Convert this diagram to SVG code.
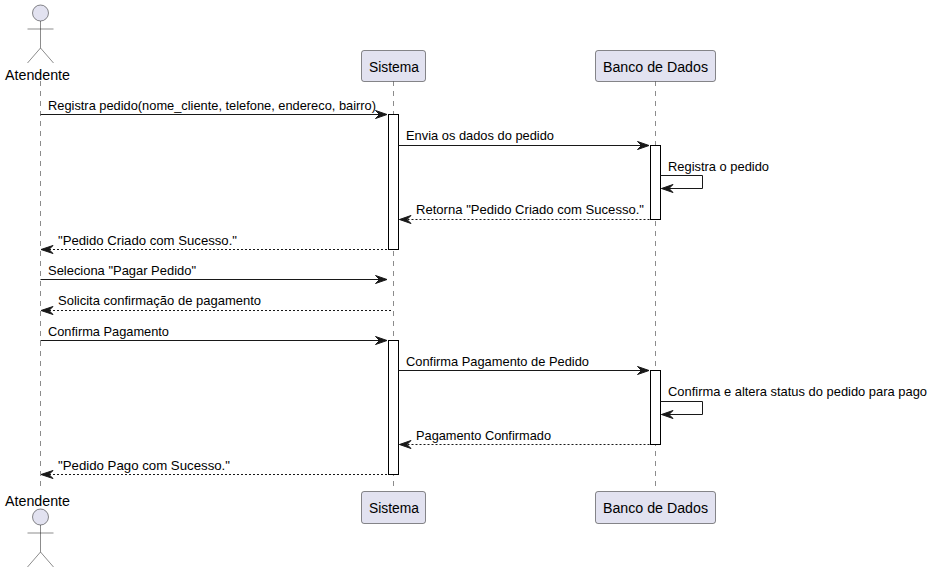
<svg xmlns="http://www.w3.org/2000/svg" width="932" height="573" viewBox="0 0 932 573">
<style>
text{font-family:"Liberation Sans",Arial,sans-serif;fill:#000}
.m{font-size:13px}
.p{font-size:14px}
.life{stroke:#181818;stroke-width:.5;stroke-dasharray:5,5;fill:none}
.box{fill:#E2E2F0;stroke:#181818;stroke-width:.5}
.act{fill:#fff;stroke:#000;stroke-width:1}
.ln{stroke:#181818;stroke-width:1;fill:none}
.dl{stroke:#181818;stroke-width:1;stroke-dasharray:2,2;fill:none}
.ah{fill:#181818;stroke:#181818;stroke-width:1}
.st{fill:none;stroke:#181818;stroke-width:.5}
.hd{fill:#E2E2F0;stroke:#181818;stroke-width:.5}
</style>
<rect width="932" height="573" fill="#fff"/>
<g id="lifelines">
<path class="life" d="M40.5 81V491"/>
<path class="life" d="M393.5 81V491"/>
<path class="life" d="M655.5 81V491"/>
</g>
<g id="activations">
<rect class="act" x="388.5" y="114.5" width="10" height="135"/>
<rect class="act" x="388.5" y="340.5" width="10" height="134"/>
<rect class="act" x="650.5" y="145.5" width="10" height="74"/>
<rect class="act" x="650.5" y="370.5" width="10" height="74"/>
</g>
<g id="actor-top">
<circle class="hd" cx="40.5" cy="13" r="8"/>
<path class="st" d="M40.5 21V48M27.5 29H53.5M40.5 48L27.5 63M40.5 48L53.5 63"/>
<text class="p" x="5" y="80" textLength="65" lengthAdjust="spacingAndGlyphs">Atendente</text>
</g>
<g id="actor-bottom">
<text class="p" x="5" y="506" textLength="65" lengthAdjust="spacingAndGlyphs">Atendente</text>
<circle class="hd" cx="40.5" cy="517" r="8"/>
<path class="st" d="M40.5 525V552M27.5 533H53.5M40.5 552L27.5 567M40.5 552L53.5 567"/>
</g>
<g id="sistema-top">
<rect class="box" x="361.5" y="50.5" width="64" height="31" rx="2.5"/>
<text class="p" x="369" y="72" textLength="50" lengthAdjust="spacingAndGlyphs">Sistema</text>
</g>
<g id="sistema-bottom">
<rect class="box" x="361.5" y="491.5" width="64" height="32" rx="2.5"/>
<text class="p" x="369" y="513" textLength="50" lengthAdjust="spacingAndGlyphs">Sistema</text>
</g>
<g id="banco-top">
<rect class="box" x="595.5" y="50.5" width="120" height="31" rx="2.5"/>
<text class="p" x="603" y="72" textLength="105" lengthAdjust="spacingAndGlyphs">Banco de Dados</text>
</g>
<g id="banco-bottom">
<rect class="box" x="595.5" y="491.5" width="120" height="32" rx="2.5"/>
<text class="p" x="603" y="513" textLength="105" lengthAdjust="spacingAndGlyphs">Banco de Dados</text>
</g>
<g id="connectors">
<path class="ln" d="M40.5 114.5H387"/><path class="ah" d="M375.5 110.5L387 114.5L375.5 118.5L379.5 114.5Z"/>
<path class="ln" d="M398.5 145.5H649"/><path class="ah" d="M637.5 141.5L649 145.5L637.5 149.5L641.5 145.5Z"/>
<path class="ln" d="M660.5 175.5H702.5V188.5H661.5"/><path class="ah" d="M673 184.5L661.5 188.5L673 192.5L669 188.5Z"/>
<path class="dl" d="M399.5 219.5H650"/><path class="ah" d="M411 215.5L399.5 219.5L411 223.5L407 219.5Z"/>
<path class="dl" d="M41 249.5H388"/><path class="ah" d="M53 245.5L41 249.5L53 253.5L49 249.5Z"/>
<path class="ln" d="M40.5 279.5H387"/><path class="ah" d="M375.5 275.5L387 279.5L375.5 283.5L379.5 279.5Z"/>
<path class="dl" d="M41 310.5H393"/><path class="ah" d="M53 306.5L41 310.5L53 314.5L49 310.5Z"/>
<path class="ln" d="M40.5 340.5H387"/><path class="ah" d="M375.5 336.5L387 340.5L375.5 344.5L379.5 340.5Z"/>
<path class="ln" d="M398.5 370.5H649"/><path class="ah" d="M637.5 366.5L649 370.5L637.5 374.5L641.5 370.5Z"/>
<path class="ln" d="M660.5 401.5H702.5V414.5H661.5"/><path class="ah" d="M673 410.5L661.5 414.5L673 418.5L669 414.5Z"/>
<path class="dl" d="M399.5 444.5H650"/><path class="ah" d="M411 440.5L399.5 444.5L411 448.5L407 444.5Z"/>
<path class="dl" d="M41 474.5H388"/><path class="ah" d="M53 470.5L41 474.5L53 478.5L49 474.5Z"/>
</g>
<g id="labels">
<text class="m" x="48" y="110" textLength="328" lengthAdjust="spacingAndGlyphs">Registra pedido(nome_cliente, telefone, endereco, bairro)</text>
<text class="m" x="406" y="140" textLength="148" lengthAdjust="spacingAndGlyphs">Envia os dados do pedido</text>
<text class="m" x="668" y="171" textLength="101" lengthAdjust="spacingAndGlyphs">Registra o pedido</text>
<text class="m" x="416" y="214" textLength="228" lengthAdjust="spacingAndGlyphs">Retorna "Pedido Criado com Sucesso."</text>
<text class="m" x="58" y="245" textLength="179" lengthAdjust="spacingAndGlyphs">"Pedido Criado com Sucesso."</text>
<text class="m" x="48" y="275" textLength="148" lengthAdjust="spacingAndGlyphs">Seleciona "Pagar Pedido"</text>
<text class="m" x="58" y="305" textLength="203" lengthAdjust="spacingAndGlyphs">Solicita confirmação de pagamento</text>
<text class="m" x="48" y="336" textLength="121" lengthAdjust="spacingAndGlyphs">Confirma Pagamento</text>
<text class="m" x="406" y="366" textLength="183" lengthAdjust="spacingAndGlyphs">Confirma Pagamento de Pedido</text>
<text class="m" x="668" y="396" textLength="259" lengthAdjust="spacingAndGlyphs">Confirma e altera status do pedido para pago</text>
<text class="m" x="416" y="440" textLength="135" lengthAdjust="spacingAndGlyphs">Pagamento Confirmado</text>
<text class="m" x="58" y="470" textLength="172" lengthAdjust="spacingAndGlyphs">"Pedido Pago com Sucesso."</text>
</g>
</svg>
